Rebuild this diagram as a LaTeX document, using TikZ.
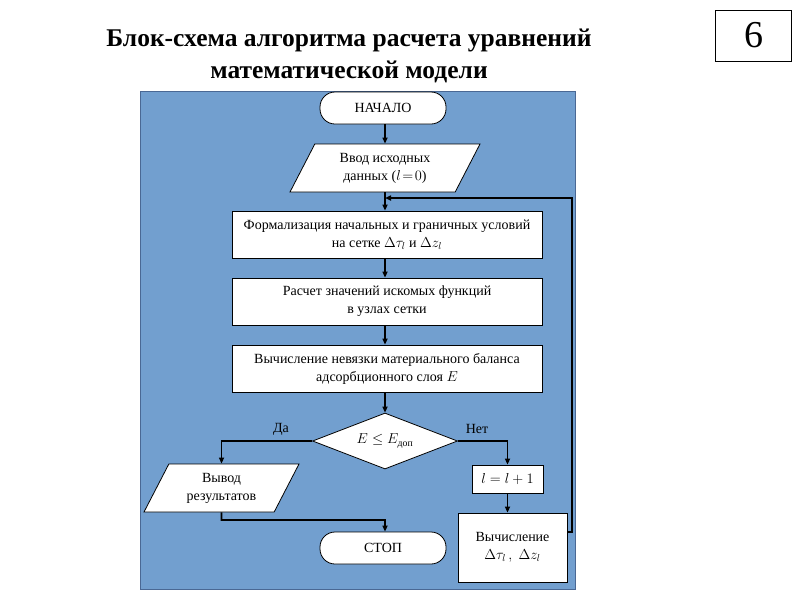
\documentclass[tikz,border=0pt]{standalone}
\usepackage{amsmath}
\usepackage{fontspec}
\setmainfont{Liberation Serif}
\usetikzlibrary{shapes.geometric,arrows.meta}
\definecolor{fon}{RGB}{114,159,207}
\definecolor{kant}{RGB}{74,104,148}
\begin{document}
\begin{tikzpicture}[x=1pt,y=-1pt,
	blok/.style={draw,fill=white,line width=.8pt,font=\fontsize{14}{18}\selectfont,align=center,inner sep=2pt},
	pusk/.style={blok,rounded corners=15pt,minimum width=126pt,minimum height=32pt},
	deistv/.style={blok,minimum width=310pt,minimum height=47pt},
	vvodvyvod/.style={blok,trapezium,trapezium left angle=54,trapezium right angle=126,trapezium stretches body,minimum height=48pt},
	vybor/.style={blok,diamond,aspect=2.6,minimum width=145pt,minimum height=56pt,inner sep=0pt},
	podpis/.style={font=\fontsize{14}{16}\selectfont},
	svyaz/.style={line width=1.6pt,-{Triangle[length=6pt,width=5pt]}}]
	\useasboundingbox (0,0) rectangle (800,600);
	\node[font=\fontsize{25.5}{32}\selectfont\bfseries,align=center] (zagolovok) at (349,56) {Блок-схема алгоритма расчета уравнений\\математической модели};
	\node[draw,line width=.8pt,minimum width=76pt,minimum height=51pt,font=\fontsize{38}{40}\selectfont] (nomer) at (753.5,35.5) {6};
	\draw[kant,fill=fon] (140,91) rectangle (575,589);
	\node[pusk] (nachalo) at (383,108) {НАЧАЛО};
	\node[vvodvyvod,minimum width=190pt] (vvod) at (385,168) {Ввод исходных\\данных ($l\!=\!0$)};
	\node[deistv] (formal) at (387,234.5) {Формализация начальных и граничных условий\\на сетке $\Delta\tau_l$ и $\Delta z_l$};
	\node[deistv] (raschet) at (387,301.5) {Расчет значений искомых функций\\в узлах сетки};
	\node[deistv] (nevyazka) at (387,368.5) {Вычисление невязки материального баланса\\адсорбционного слоя $E$};
	\node[vybor] (uslovie) at (385,441) {$E\le E_{\text{доп}}$};
	\node[vvodvyvod,minimum width=155pt] (vyvod) at (221.5,488) {Вывод\\результатов};
	\node[pusk] (stop) at (383,548) {СТОП};
	\node[blok,minimum width=71pt,minimum height=28pt] (shag) at (507.5,479) {$l=l+1$};
	\node[blok,minimum width=109pt,minimum height=69pt] (vychislenie) at (512.5,547.5) {Вычисление\\$\Delta\tau_l\,,\;\Delta z_l$};
	\node[podpis] (da) at (281,429) {Да};
	\node[podpis] (net) at (477,429) {Нет};
	\coordinate (povorot) at (221.5,520);
	\coordinate (ugol) at (572,532);
	\coordinate (vozvrat) at (385,198);
	\draw[svyaz] (nachalo.south -| uslovie) -- (vvod.north -| uslovie);
	\draw[svyaz] (vvod.south -| uslovie) -- (formal.north -| uslovie);
	\draw[svyaz] (formal.south -| uslovie) -- (raschet.north -| uslovie);
	\draw[svyaz] (raschet.south -| uslovie) -- (nevyazka.north -| uslovie);
	\draw[svyaz] (nevyazka.south -| uslovie) -- (uslovie);
	\draw[svyaz] (uslovie.west) -| (vyvod.north);
	\draw[svyaz] (vyvod.south) -- (povorot) -| (stop.north -| uslovie);
	\draw[svyaz] (uslovie.east) -| (shag.north);
	\draw[svyaz] (shag.south) -- (vychislenie.north -| shag.south);
	\draw[svyaz] (vychislenie.east |- ugol) -- (ugol) |- (vozvrat);
\end{tikzpicture}
\end{document}
